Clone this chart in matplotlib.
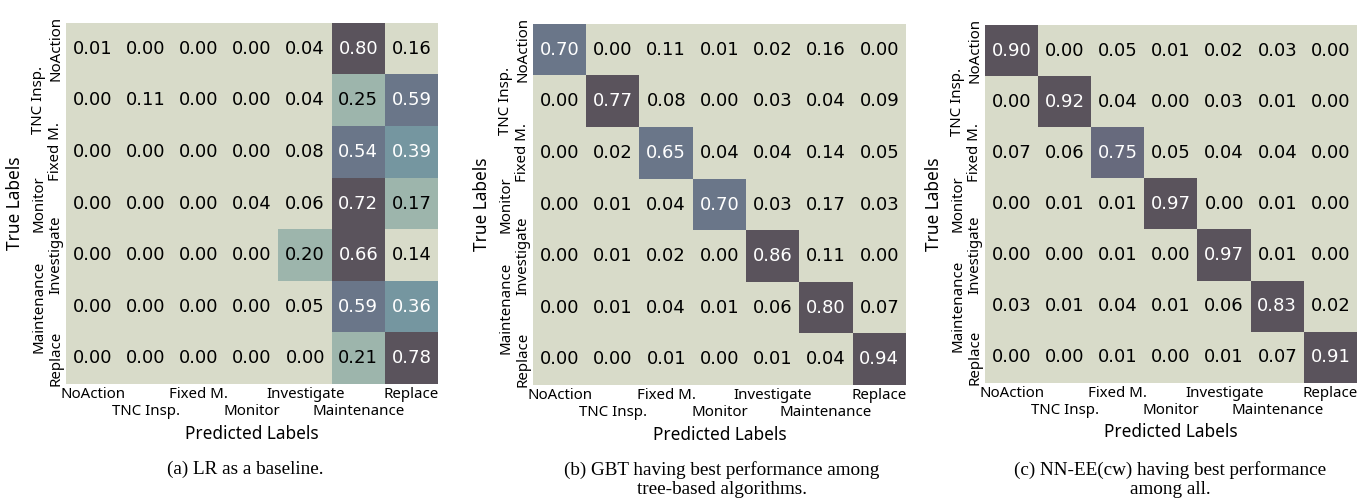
"""
Confusion matrices for LR / GBT / NN-EE(cw), three panels side by side.
"""
import matplotlib
matplotlib.use("Agg")
import matplotlib.pyplot as plt
import numpy as np
from matplotlib.colors import ListedColormap, BoundaryNorm

CLASSES = ["NoAction", "TNC Insp.", "Fixed M.", "Monitor", "Investigate", "Maintenance", "Replace"]

LR = [
    [0.01, 0.00, 0.00, 0.00, 0.04, 0.80, 0.16],
    [0.00, 0.11, 0.00, 0.00, 0.04, 0.25, 0.59],
    [0.00, 0.00, 0.00, 0.00, 0.08, 0.54, 0.39],
    [0.00, 0.00, 0.00, 0.04, 0.06, 0.72, 0.17],
    [0.00, 0.00, 0.00, 0.00, 0.20, 0.66, 0.14],
    [0.00, 0.00, 0.00, 0.00, 0.05, 0.59, 0.36],
    [0.00, 0.00, 0.00, 0.00, 0.00, 0.21, 0.78],
]
GBT = [
    [0.70, 0.00, 0.11, 0.01, 0.02, 0.16, 0.00],
    [0.00, 0.77, 0.08, 0.00, 0.03, 0.04, 0.09],
    [0.00, 0.02, 0.65, 0.04, 0.04, 0.14, 0.05],
    [0.00, 0.01, 0.04, 0.70, 0.03, 0.17, 0.03],
    [0.00, 0.01, 0.02, 0.00, 0.86, 0.11, 0.00],
    [0.00, 0.01, 0.04, 0.01, 0.06, 0.80, 0.07],
    [0.00, 0.00, 0.01, 0.00, 0.01, 0.04, 0.94],
]
NN = [
    [0.90, 0.00, 0.05, 0.01, 0.02, 0.03, 0.00],
    [0.00, 0.92, 0.04, 0.00, 0.03, 0.01, 0.00],
    [0.07, 0.06, 0.75, 0.05, 0.04, 0.04, 0.00],
    [0.00, 0.01, 0.01, 0.97, 0.00, 0.01, 0.00],
    [0.00, 0.00, 0.01, 0.00, 0.97, 0.01, 0.00],
    [0.03, 0.01, 0.04, 0.01, 0.06, 0.83, 0.02],
    [0.00, 0.00, 0.01, 0.00, 0.01, 0.07, 0.91],
]

CAPTIONS = [
    "(a) LR as a baseline.",
    "(b) GBT having best performance among\ntree-based algorithms.",
    "(c) NN-EE(cw) having best performance\namong all.",
]

# 단계형 컬러맵 (연한 올리브 -> 진한 회보라)
COLORS = ["#d8dbc9", "#9db5ac", "#7596a0", "#6a7689", "#676a7d", "#5a535c"]
BOUNDS = [0.0, 0.205, 0.4, 0.6, 0.76, 0.815, 1.0001]

W, H = 1370, 498
fig = plt.figure(figsize=(W / 100, H / 100), dpi=100)

# 패널 위치 (픽셀: left, top, right, bottom)
PANELS = [(66, 23, 438, 384), (533, 24, 906, 385), (985, 25, 1357, 383)]
CAP_X = [245, 722, 1170]

cmap = ListedColormap(COLORS)

for k, mat in enumerate([LR, GBT, NN]):
    data = np.array(mat)
    l, t, r, b = PANELS[k]
    ax = fig.add_axes([l / W, 1 - b / H, (r - l) / W, (b - t) / H])
    vmax = data.max()
    norm = BoundaryNorm(np.array(BOUNDS) * vmax, ncolors=len(COLORS))
    ax.imshow(data, cmap=cmap, norm=norm, aspect="auto")

    n = len(CLASSES)
    for i in range(n):
        for j in range(n):
            val = data[i, j]
            color = "white" if val / vmax >= 0.4 else "black"
            ax.text(j, i, f"{val:.2f}", ha="center", va="center",
                    fontsize=13, color=color, family="DejaVu Sans")

    ax.set_xticks(range(n))
    ax.set_xticklabels([c if j % 2 == 0 else "\n" + c for j, c in enumerate(CLASSES)],
                       fontsize=10.8, family="Noto Sans")
    ax.set_yticks(range(n))
    ax.set_yticklabels([c if j % 2 == 0 else c + "\n" for j, c in enumerate(CLASSES)],
                       fontsize=10.8, family="Noto Sans", rotation=90, va="center")
    ax.tick_params(length=0, pad=2)
    for s in ax.spines.values():
        s.set_visible(False)

    ax.set_xlabel("Predicted Labels", fontsize=12.4, family="Noto Sans")
    ax.set_ylabel("True Labels", fontsize=12.4, family="Noto Sans")
    ax.xaxis.set_label_coords(0.5, -0.113)
    ax.yaxis.set_label_coords(-0.112, 0.5)

    fig.text(CAP_X[k] / W, 1 - 461 / H, CAPTIONS[k], ha="center", va="top",
             fontsize=13.8, family="Liberation Serif", linespacing=1.15)

fig.savefig("out.png", dpi=100)
